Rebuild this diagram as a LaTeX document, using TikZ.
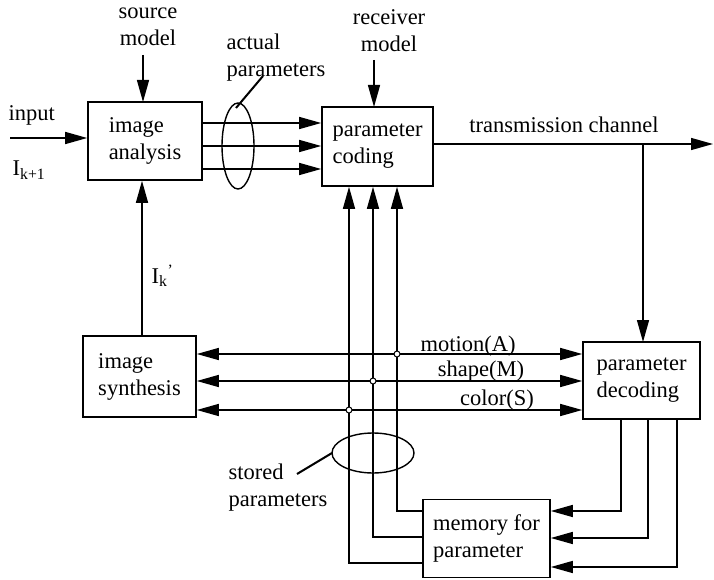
\documentclass[tikz,border=0pt]{standalone}
\usepackage{fontspec}
\setmainfont{Liberation Serif}
\usepackage{tikz}
\usetikzlibrary{calc,arrows.meta}
\tikzset{>={Triangle[length=22pt,width=12pt]},
  blk/.style={draw,line width=1.6pt,align=left,inner sep=0pt,minimum height=78pt},
  lbl/.style={inner sep=0pt,align=left},
  jn/.style={circle,draw,fill=white,line width=1pt,inner sep=0pt,minimum size=6pt}}

\begin{document}
\begin{tikzpicture}[x=1pt,y=-1pt,line width=1.4pt,font=\fontsize{22.5}{27}\selectfont]
  \useasboundingbox (0,0) rectangle (714,580);

  \node[blk,minimum width=114pt] (ana) at (145,141) {image\\analysis};
  \node[blk,minimum width=111pt,minimum height=79pt] (cod) at (377.5,146.5) {parameter\\coding};
  \node[blk,minimum width=113pt,minimum height=81pt] (syn) at (139.5,376.5) {image\\synthesis};
  \node[blk,minimum width=117pt,minimum height=77pt] (dec) at (641.5,380.5) {parameter\\decoding};
  \node[blk,minimum width=127pt,minimum height=78pt] (mem) at (486.5,538.5) {memory for\\parameter};

  % inputs and models
  \coordinate (in) at (10,138);
  \draw[->] (in) -- (in -| ana.west);
  \node[lbl,anchor=west] (inp) at (8,115) {input};
  \node[lbl,anchor=west] (ik1) at (12,170) {I\textsubscript{k+1}};
  \node[lbl,align=center] (src) at (148,27) {source\\model};
  \draw[->] (143,55) -- (143,102);
  \node[lbl,align=center] (rcv) at (389,31) {receiver\\model};
  \draw[->] (374,60) -- (374,107);

  % actual parameters
  \foreach \y in {123,146,169}
    \draw[->] (ana.east |- 0,\y) -- (cod.west |- 0,\y);
  \draw (238,146) ellipse (16 and 43);
  \draw[line width=2pt] (236,108) -- (263,76);
  \node[lbl,anchor=north west] (act) at (226,33) {actual\\parameters};

  % channel
  \coordinate (ch) at (713,144);
  \draw[->] (cod.east |- ch) -- (ch);
  \node[lbl] (tch) at (564,125) {transmission channel};
  \draw[->] (643,144) -- (643,342);

  % feedback
  \draw[->] (syn.north -| 142,0) -- (ana.south -| 142,0);
  \node[lbl,anchor=west] (ik) at (151,276) {I\textsubscript{k}\textsuperscript{'}};

  % decoded parameters
  \draw[<->] (syn.east |- 0,354) -- (dec.west |- 0,354);
  \draw[<->] (syn.east |- 0,381) -- (dec.west |- 0,381);
  \draw[<->] (syn.east |- 0,410) -- (dec.west |- 0,410);
  \node[lbl] (mot) at (468,346) {motion(A)};
  \node[lbl] (shp) at (481,371) {shape(M)};
  \node[lbl] (col) at (497,400) {color(S)};

  % stored parameters
  \coordinate (v1) at (397,511);
  \coordinate (v2) at (373,537);
  \coordinate (v3) at (349,563);
  \foreach \v in {v1,v2,v3}
    \draw[->] (\v -| mem.west) -- (\v) -- (\v |- cod.south);
  \coordinate (d1) at (621,511);
  \coordinate (d2) at (648,538);
  \coordinate (d3) at (677,567);
  \foreach \d in {d1,d2,d3}
    \draw[->] (\d |- dec.south) -- (\d) -- (\d -| mem.east);
  \node[jn] (j1) at (397,354) {};
  \node[jn] (j2) at (373,381) {};
  \node[jn] (j3) at (349,410) {};
  \draw (373,453) ellipse (41 and 20);
  \draw[line width=2pt] (332,453) -- (297,474);
  \node[lbl,anchor=north west] (sto) at (228,463) {stored\\parameters};
\end{tikzpicture}
\end{document}
